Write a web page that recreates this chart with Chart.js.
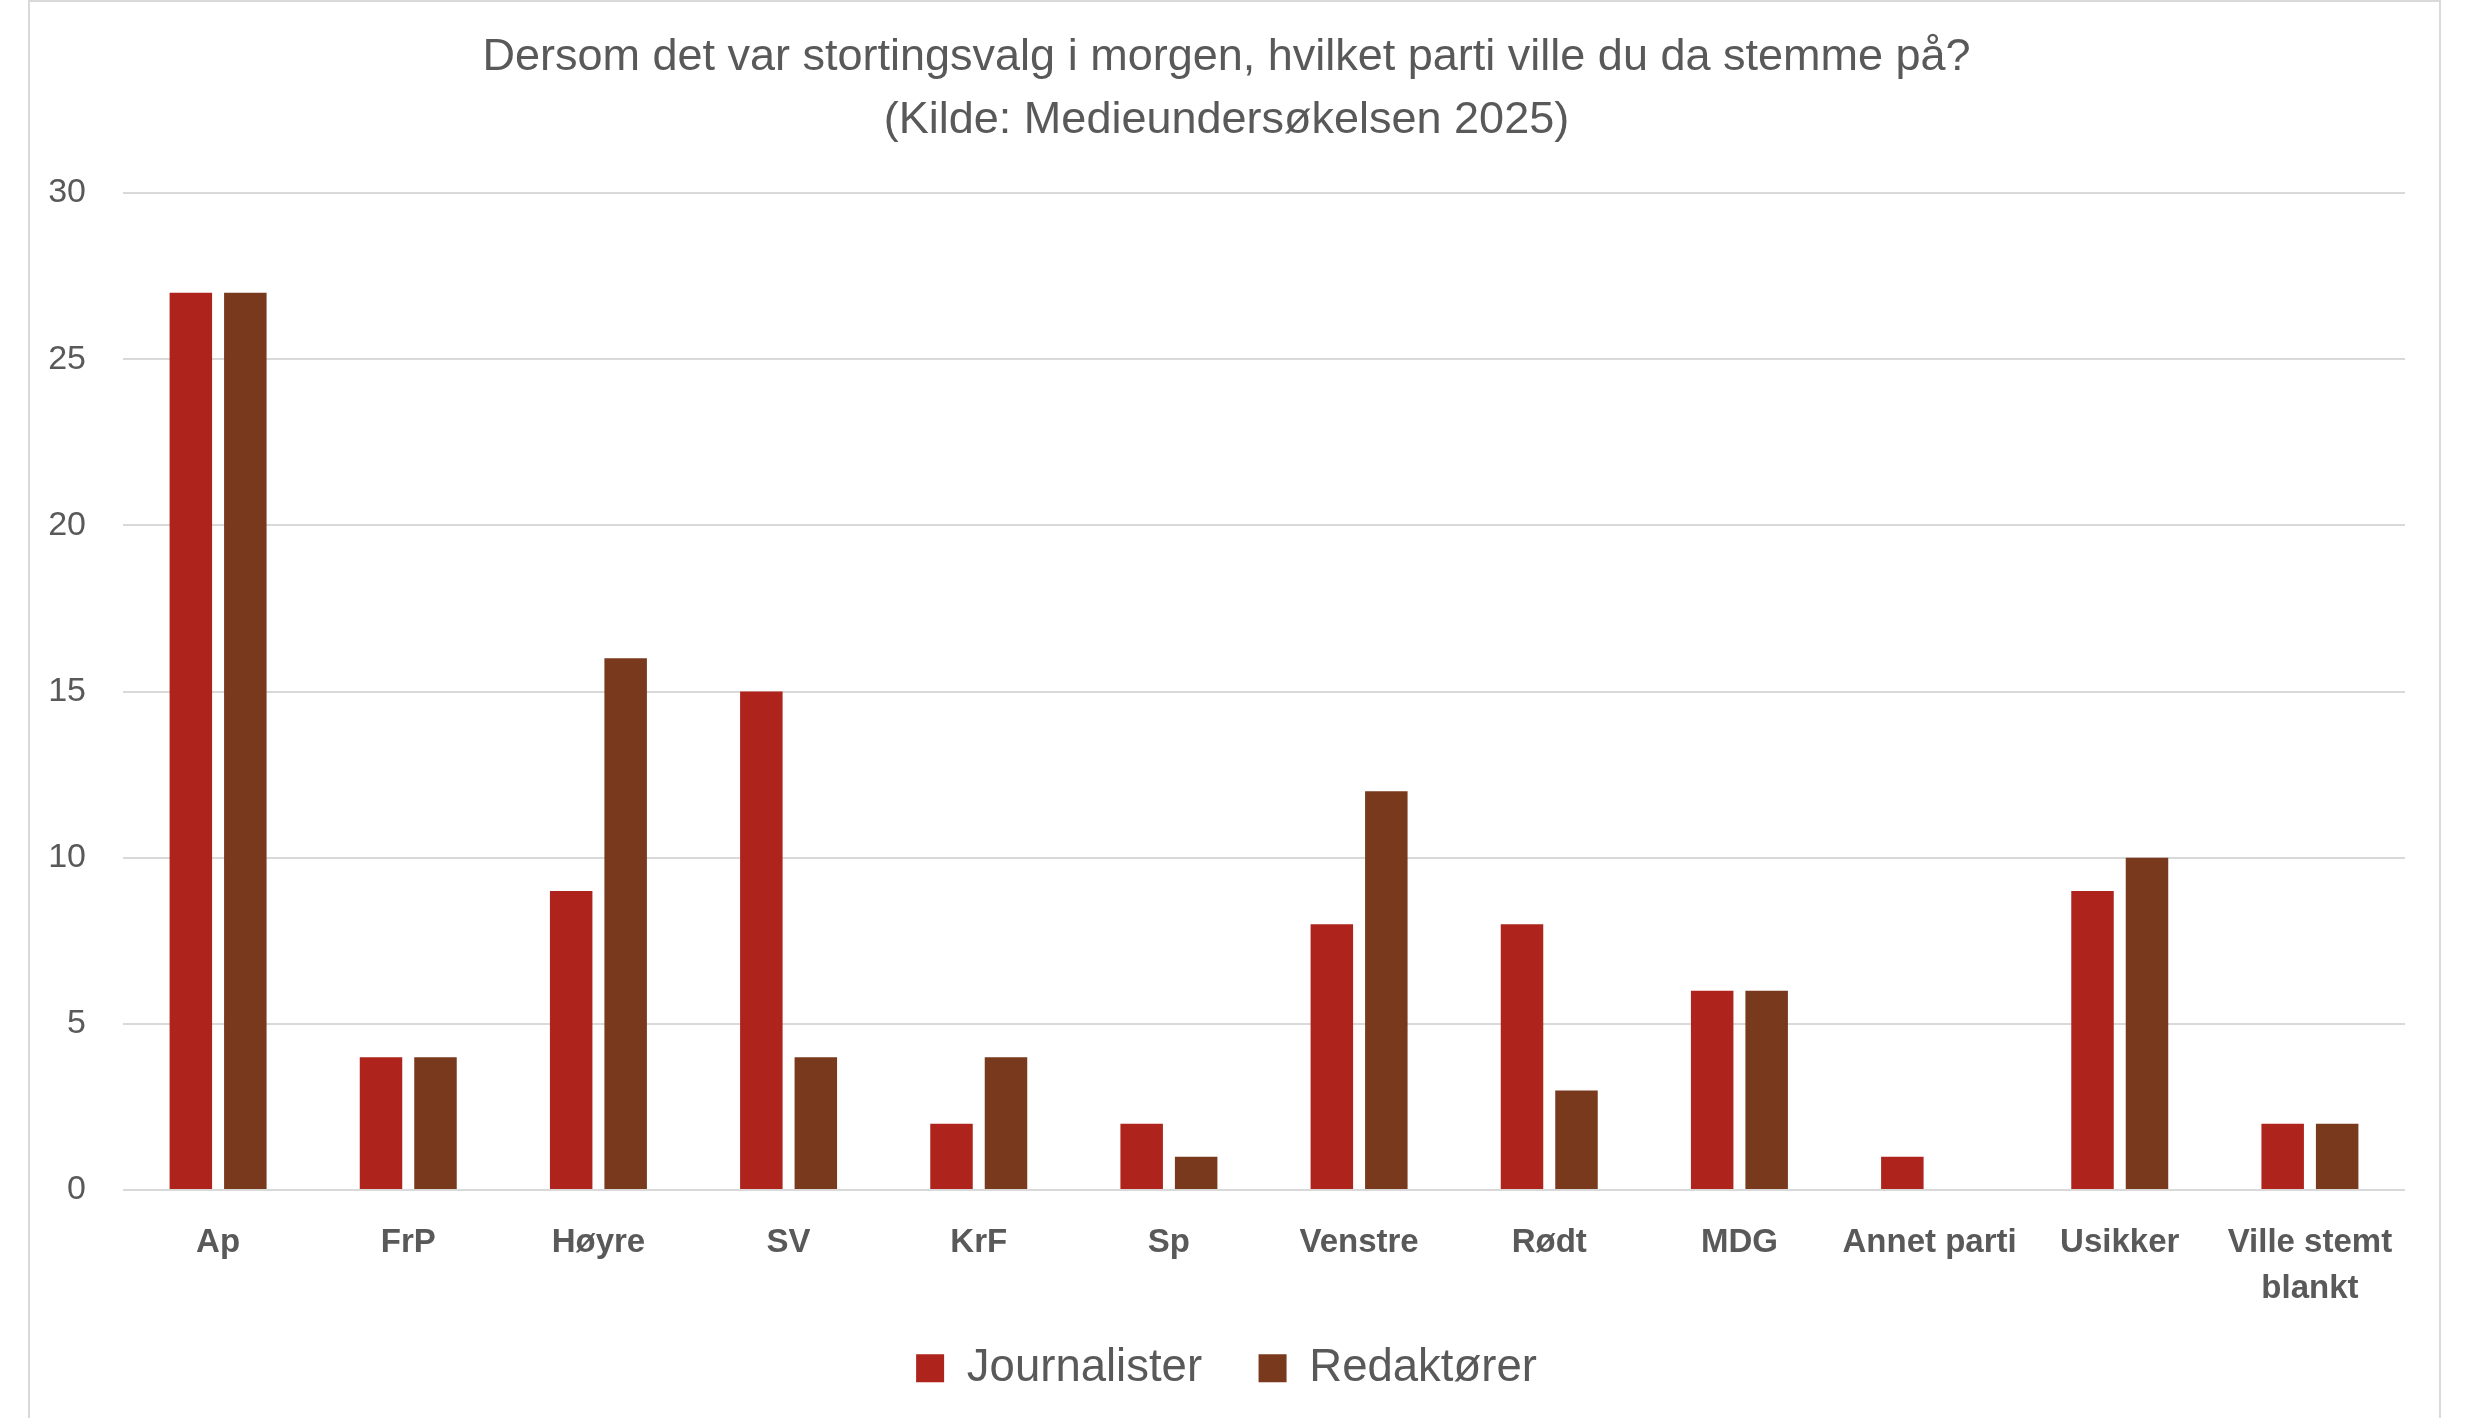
<!DOCTYPE html>
<html lang="no">
<head>
<meta charset="UTF-8">
<title>Stortingsvalg - Medieundersøkelsen 2025</title>
<script src="https://cdn.jsdelivr.net/npm/chart.js"></script>
<style>
  html, body { margin: 0; padding: 0; background: #fff; }
  #frame {
    position: absolute;
    left: 28px; top: 0;
    width: 2409px; height: 1430px;
    border: 2px solid #d9d9d9;
  }
  #frame canvas { display: block; }
</style>
</head>
<body>
<div id="frame"><canvas id="chart" width="2409" height="1418"></canvas></div>
<script>
// party categories (x axis)
const parties = ['Ap', 'FrP', 'Høyre', 'SV', 'KrF', 'Sp', 'Venstre', 'Rødt', 'MDG', 'Annet parti', 'Usikker', ['Ville stemt', 'blankt']];
// percent answering each party
const journalister = [27, 4, 9, 15, 2, 2, 8, 8, 6, 1, 9, 2];
const redaktorer   = [27, 4, 16, 4, 4, 1, 12, 3, 6, 0, 10, 2];
const yTicks = [0, 5, 10, 15, 20, 25, 30];

const grey = '#595959';
const fontFam = '"Liberation Sans", Arial, sans-serif';

new Chart(document.getElementById('chart'), {
  type: 'bar',
  data: {
    labels: parties,
    datasets: [
      { label: 'Journalister', data: journalister, backgroundColor: '#ae231b',
        categoryPercentage: 0.573, barPercentage: 0.78 },
      { label: 'Redaktører', data: redaktorer, backgroundColor: '#78391c',
        categoryPercentage: 0.573, barPercentage: 0.78 }
    ]
  },
  options: {
    responsive: false,
    animation: false,
    layout: { padding: { left: 18, right: 34, top: 0, bottom: 19 } },
    plugins: {
      title: {
        display: true,
        text: ['Dersom det var stortingsvalg i morgen, hvilket parti ville du da stemme på?', '(Kilde: Medieundersøkelsen 2025)'],
        color: grey,
        font: { family: fontFam, size: 45, weight: 'normal', lineHeight: 1.4 },
        padding: { top: 24, bottom: 41 }
      },
      legend: {
        position: 'bottom',
        labels: {
          color: grey,
          font: { family: fontFam, size: 45.5 },
          boxWidth: 28, boxHeight: 28,
          padding: 11,
          // wider gap between the two legend entries
          generateLabels: chart => {
            const items = Chart.defaults.plugins.legend.labels.generateLabels(chart);
            items[0].text += '\u2003';
            return items;
          }
        }
      },
      tooltip: { enabled: false }
    },
    scales: {
      x: {
        grid: { display: false },
        border: { display: false },
        ticks: {
          color: grey, padding: 22, maxRotation: 0, autoSkip: false,
          font: { family: fontFam, size: 33, weight: 'bold', lineHeight: 1.4 }
        }
      },
      y: {
        min: 0, max: 30,
        afterBuildTicks: axis => { axis.ticks = yTicks.map(v => ({ value: v })); },
        afterFit: axis => { axis.width = 75; },
        grid: { color: '#d9d9d9', lineWidth: 2, drawTicks: false },
        border: { display: false },
        ticks: {
          color: grey, padding: 37,
          font: { family: fontFam, size: 34 }
        }
      }
    }
  }
});
</script>
</body>
</html>
